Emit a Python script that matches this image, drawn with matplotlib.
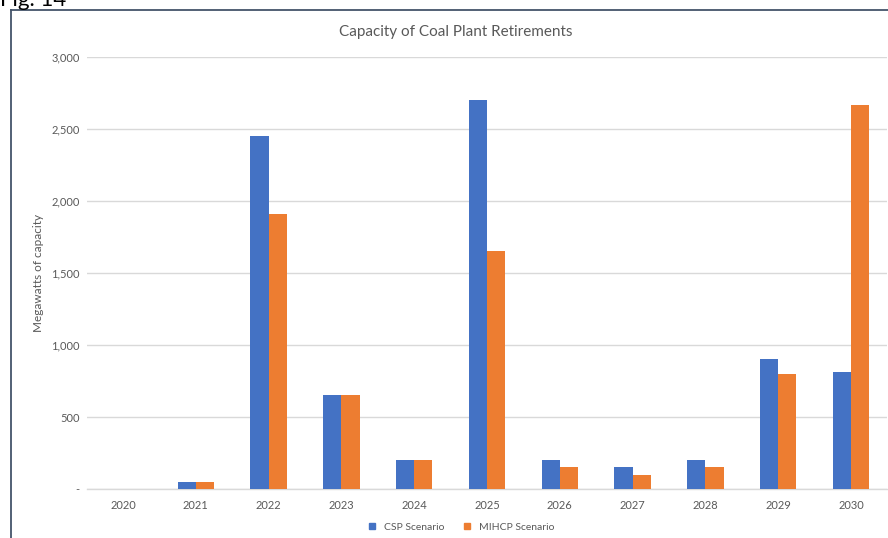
import numpy as np
import matplotlib
matplotlib.use('Agg')
import matplotlib.pyplot as plt
from matplotlib.lines import Line2D
from matplotlib.ticker import FuncFormatter

years = ['2020', '2021', '2022', '2023', '2024', '2025',
         '2026', '2027', '2028', '2029', '2030']
csp = [0, 50, 2450, 650, 200, 2700, 200, 150, 200, 900, 815]
mihcp = [0, 50, 1910, 650, 200, 1650, 150, 100, 150, 800, 2670]

BLUE = '#4472C4'
ORANGE = '#ED7D31'
GREY_TEXT = '#595959'
GRID = '#D9D9D9'

plt.rcParams['font.family'] = ['Lato', 'DejaVu Sans']

fig = plt.figure(figsize=(8.88, 5.38), dpi=100)

# outer frame around the chart
fig.add_artist(Line2D([11 / 888, 11 / 888], [0, 1 - 10 / 538],
                      color='#44546A', linewidth=1.3))
fig.add_artist(Line2D([11 / 888, 1], [1 - 10 / 538, 1 - 10 / 538],
                      color='#44546A', linewidth=1.3))
fig.text(0.0, 1 - 6 / 538, 'Fig. 14', fontsize=16, color='black',
         ha='left', va='baseline')

ax = fig.add_axes([86.6 / 888, 1 - 489 / 538, 800.8 / 888, (489 - 57) / 538])

x = np.arange(len(years))
w = 0.25
ax.bar(x - w / 2, csp, width=w, color=BLUE, label='CSP Scenario', zorder=3)
ax.bar(x + w / 2, mihcp, width=w, color=ORANGE, label='MIHCP Scenario', zorder=3)

ax.set_xlim(-0.5, len(years) - 0.5)
ax.set_ylim(0, 3000)
ax.set_yticks(np.arange(0, 3001, 500))
ax.yaxis.set_major_formatter(FuncFormatter(lambda v, p: '-' if v == 0 else f'{int(v):,}'))
ax.set_xticks(x)
ax.set_xticklabels(years)

for s in ['top', 'right', 'left']:
    ax.spines[s].set_visible(False)
ax.spines['bottom'].set_color(GRID)
ax.spines['bottom'].set_linewidth(1)
ax.yaxis.grid(True, color=GRID, linewidth=1, zorder=0)
ax.set_axisbelow(True)
ax.tick_params(axis='both', length=0, labelsize=8, colors=GREY_TEXT)
ax.tick_params(axis='y', pad=5)
ax.tick_params(axis='x', pad=8)

ax.set_ylabel('Megawatts of capacity', fontsize=8.5, color=GREY_TEXT, labelpad=5)
fig.text(456 / 888, 1 - 32 / 538, 'Capacity of Coal Plant Retirements',
         fontsize=11, color=GREY_TEXT, ha='center', va='center')

handles = [Line2D([], [], marker='s', linestyle='', color=BLUE, markersize=5),
           Line2D([], [], marker='s', linestyle='', color=ORANGE, markersize=5)]
fig.legend(handles, ['CSP Scenario', 'MIHCP Scenario'], loc='center',
           bbox_to_anchor=(458 / 888, 1 - 527 / 538), ncol=2, frameon=False,
           fontsize=7.5, handletextpad=0.1, columnspacing=1.2,
           labelcolor=GREY_TEXT)

fig.savefig('out.png', dpi=100)
